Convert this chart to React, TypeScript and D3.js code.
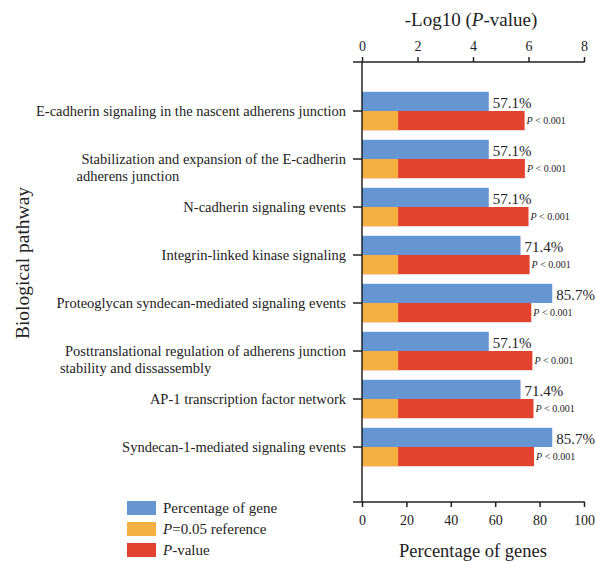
import React, { useRef, useEffect } from 'react';
import * as d3 from 'd3';

const pathways: string[][] = [
  ['E-cadherin signaling in the nascent adherens junction'],
  ['Stabilization and expansion of the E-cadherin', 'adherens junction'],
  ['N-cadherin signaling events'],
  ['Integrin-linked kinase signaling'],
  ['Proteoglycan syndecan-mediated signaling events'],
  ['Posttranslational regulation of adherens junction', 'stability and dissassembly'],
  ['AP-1 transcription factor network'],
  ['Syndecan-1-mediated signaling events'],
];
const geneShare = [57.1, 57.1, 57.1, 71.4, 85.7, 57.1, 71.4, 85.7];
const negLogP = [5.86, 5.87, 6.0, 6.04, 6.1, 6.14, 6.18, 6.2];
const refP = 0.05;
const pctTicks = [0, 20, 40, 60, 80, 100];
const logTicks = [0, 2, 4, 6, 8];
const legendItems = [
  { key: 'pct', label: ['', 'Percentage of gene'] },
  { key: 'ref', label: ['P', '=0.05 reference'] },
  { key: 'p', label: ['P', '-value'] },
];

const W = 595;
const H = 561;
const FONT = '"Liberation Serif", "Times New Roman", serif';
const BLUE = '#6596d2';
const ORANGE = '#f5b043';
const RED = '#e2432f';
const INK = '#222';

const App = () => {
  const svgRef = useRef<SVGSVGElement | null>(null);

  useEffect(() => {
    const svg = d3.select(svgRef.current);
    svg.selectAll('*').remove();
    svg.style('font-family', FONT);

    const top = 62;
    const bottom = 502;
    const ids = pathways.map((_, i) => String(i));

    const x = d3.scaleLinear().domain([0, 100]).range([362, 584]);
    const xLog = d3.scaleLinear().domain([0, 8]).range([362, 584]);
    const y = d3
      .scaleBand()
      .domain(ids)
      .range([87, 471])
      .paddingInner(0.2)
      .paddingOuter(0.1);
    const half = y.bandwidth() / 2;

    // bars
    const g = svg.append('g');
    ids.forEach((id, i) => {
      const y0 = y(id)!;
      g.append('rect')
        .attr('x', x(0))
        .attr('y', y0)
        .attr('width', x(geneShare[i]) - x(0))
        .attr('height', half)
        .attr('fill', BLUE);
      g.append('rect')
        .attr('x', xLog(0))
        .attr('y', y0 + half)
        .attr('width', xLog(negLogP[i]) - xLog(0))
        .attr('height', half)
        .attr('fill', RED);
      g.append('rect')
        .attr('x', xLog(0))
        .attr('y', y0 + half)
        .attr('width', xLog(-Math.log10(refP)) - xLog(0))
        .attr('height', half)
        .attr('fill', ORANGE);
      g.append('text')
        .attr('x', x(geneShare[i]) + 4)
        .attr('y', y0 + half - 3)
        .attr('font-size', 15)
        .attr('fill', INK)
        .text(`${geneShare[i].toFixed(1)}%`);
      const pt = g.append('text')
        .attr('x', xLog(negLogP[i]) + 2)
        .attr('y', y0 + 2 * half - 6)
        .attr('font-size', 10)
        .attr('fill', INK);
      pt.append('tspan').attr('font-style', 'italic').text('P');
      pt.append('tspan').text(' < 0.001');
    });

    // axes
    const axisStyle = (sel: d3.Selection<SVGGElement, unknown, null, undefined>) => {
      sel.select('.domain').remove();
      sel.selectAll('line').attr('stroke', INK).attr('stroke-width', 1.5);
      sel.selectAll('text').attr('font-family', FONT).attr('font-size', 14).attr('fill', INK);
    };

    svg.append('g')
      .attr('transform', `translate(0,${top})`)
      .call(d3.axisTop(xLog).tickValues(logTicks).tickSize(5).tickPadding(6).tickFormat(d3.format('d')))
      .call(axisStyle);
    svg.append('g')
      .attr('transform', `translate(0,${bottom})`)
      .call(d3.axisBottom(x).tickValues(pctTicks).tickSize(5).tickPadding(8).tickFormat(d3.format('d')))
      .call(axisStyle);
    svg.append('g')
      .attr('transform', `translate(${x(0)},0)`)
      .call(d3.axisLeft(y).tickSize(9).tickFormat(() => ''))
      .call(axisStyle);

    const lines = svg.append('g').attr('stroke', INK).attr('stroke-width', 1.5);
    lines.append('line').attr('x1', x(0) - 9).attr('x2', x(100) + 0.75).attr('y1', top).attr('y2', top);
    lines.append('line').attr('x1', x(0) - 9).attr('x2', x(100) + 0.75).attr('y1', bottom).attr('y2', bottom);
    lines.append('line').attr('x1', x(0)).attr('x2', x(0)).attr('y1', top).attr('y2', bottom);

    // category labels
    const labelX = x(0) - 16;
    ids.forEach((id, i) => {
      const cy = y(id)! + half;
      const [l1, l2] = pathways[i];
      const t1 = svg.append('text')
        .attr('x', labelX)
        .attr('y', cy)
        .attr('dy', '0.35em')
        .attr('text-anchor', 'end')
        .attr('font-size', 14.5)
        .attr('fill', INK)
        .text(l1);
      if (l2) {
        const len = (t1.node() as SVGTextElement).getComputedTextLength();
        svg.append('text')
          .attr('x', labelX - len - 5)
          .attr('y', cy + 17)
          .attr('dy', '0.35em')
          .attr('font-size', 14.5)
          .attr('fill', INK)
          .text(l2);
      }
    });

    // axis titles
    const tt = svg.append('text')
      .attr('x', (x(0) + x(100)) / 2 - 2)
      .attr('y', 26)
      .attr('text-anchor', 'middle')
      .attr('font-size', 19)
      .attr('fill', INK);
    tt.append('tspan').text('-Log10 (');
    tt.append('tspan').attr('font-style', 'italic').text('P');
    tt.append('tspan').text('-value)');

    svg.append('text')
      .attr('x', (x(0) + x(100)) / 2)
      .attr('y', 557)
      .attr('text-anchor', 'middle')
      .attr('font-size', 18.5)
      .attr('fill', INK)
      .text('Percentage of genes');

    svg.append('text')
      .attr('transform', `translate(29,263) rotate(-90)`)
      .attr('text-anchor', 'middle')
      .attr('font-size', 19.5)
      .attr('fill', INK)
      .text('Biological pathway');

    // legend
    const colors: Record<string, string> = { pct: BLUE, ref: ORANGE, p: RED };
    const lg = svg.append('g').attr('transform', 'translate(127,501)');
    legendItems.forEach((d, i) => {
      const row = lg.append('g').attr('transform', `translate(0,${i * 21})`);
      row.append('rect').attr('width', 29).attr('height', 14).attr('fill', colors[d.key]);
      const t = row.append('text')
        .attr('x', 36)
        .attr('y', 7)
        .attr('dy', '0.35em')
        .attr('font-size', 15)
        .attr('fill', INK);
      if (d.label[0]) t.append('tspan').attr('font-style', 'italic').text(d.label[0]);
      t.append('tspan').text(d.label[1]);
    });
  }, []);

  return (
    <div style={{ position: 'absolute', left: 0, top: 0 }}>
      <svg ref={svgRef} width={W} height={H} style={{ display: 'block', background: '#fff' }} />
    </div>
  );
};

export default App;
